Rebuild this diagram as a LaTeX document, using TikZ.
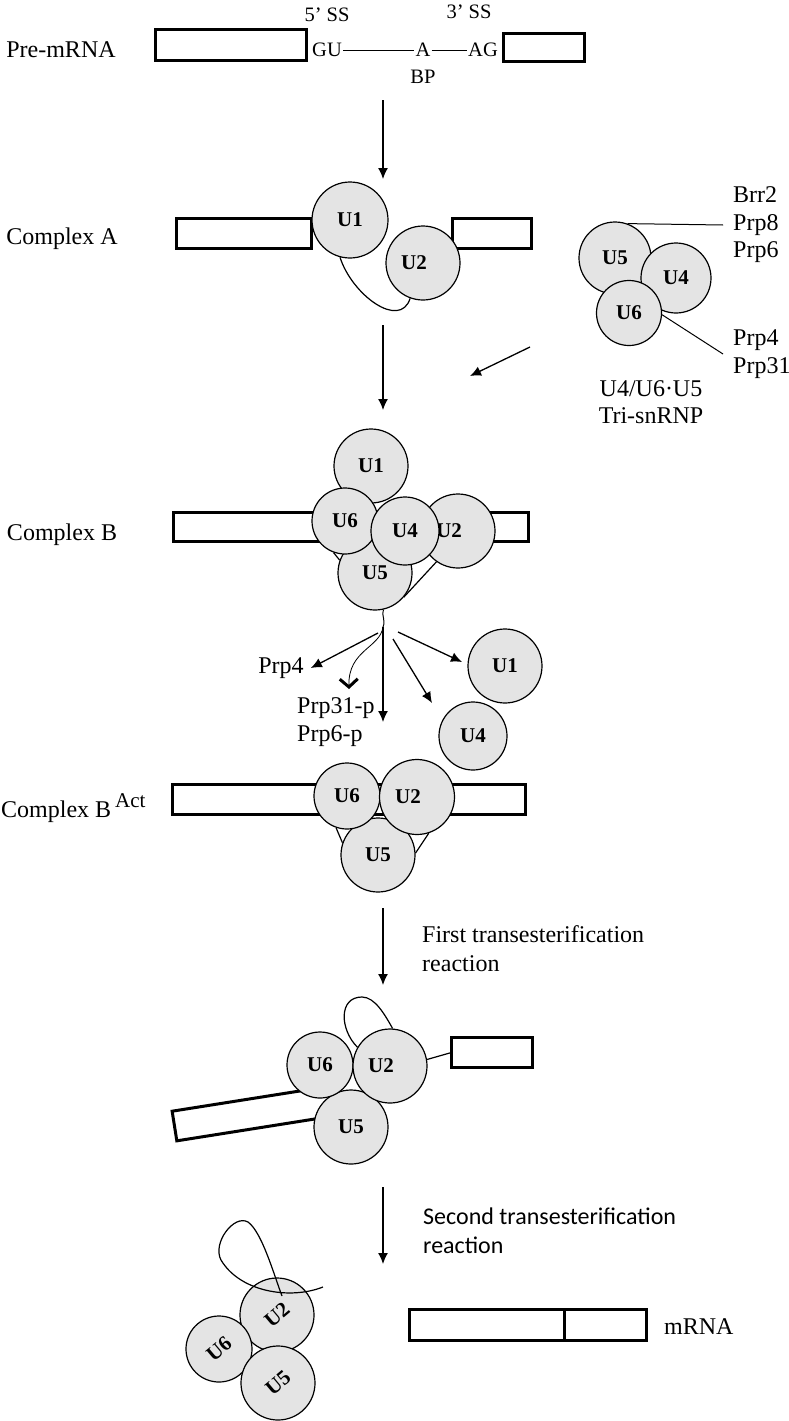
\documentclass[tikz,border=0pt]{standalone}
\usepackage{fontspec}
\setmainfont{Liberation Serif}
\newfontfamily\reactfont{Carlito}
\usepackage{tikz}
\usetikzlibrary{positioning}
\usetikzlibrary{arrows.meta}
\pgfdeclarelayer{background}
\pgfdeclarelayer{foreground}
\pgfsetlayers{background,main,foreground}
\definecolor{rnpgray}{RGB}{228,228,228}
\newcommand{\offlbl}[1]{\hspace*{-18pt}#1}

\begin{document}
\begin{tikzpicture}[
						x=1pt, y=-1pt,
						roundnode/.style={circle, draw=black, line width=1.2pt, fill=rnpgray, inner sep=0pt, minimum size=#1, font=\bfseries\fontsize{21}{21}\selectfont},
						roundnode/.default=74pt,
						exonbox/.style={rectangle, draw=black, line width=3pt, fill=white, inner sep=0pt, outer sep=0pt},
						txt/.style={inner sep=0pt, align=left, font=\fontsize{24}{27.5}\selectfont},
						smalltxt/.style={inner sep=1pt, font=\fontsize{20.5}{22}\selectfont},
						arr/.style={line width=1.3pt, -{Latex[length=11pt,width=10pt]}},
						]
						\useasboundingbox (0,0) rectangle (789,1421);
						
						%Pre-mRNA
						\node[txt]      (lpre)   at  (61,50)     {Pre-mRNA};
						\node[exonbox, minimum width=151pt, minimum height=31pt]  (pe1)  at  (231,45)  {};
						\node[exonbox, minimum width=81pt, minimum height=28pt]   (pe2)  at  (544,47.5) {};
						\node[smalltxt] (gu)     at  (327,50)    {GU};
						\node[smalltxt] (bpa)    at  (423,50)    {A};
						\node[smalltxt] (ag)     at  (483,50)    {AG};
						\node[smalltxt] (ss5)    at  (327,15)    {5’ SS};
						\node[smalltxt] (ss3)    at  (469,12)    {3’ SS};
						\node[smalltxt] (bp)     at  (423,77)    {BP};
						\draw[line width=0.8pt] (gu.east) -- (bpa.west);
						\draw[line width=0.8pt] (bpa.east) -- (ag.west);
						
						%Complex A
						\node[txt]      (lca)    at  (62,239)    {Complex A};
						\node[exonbox, minimum width=135pt, minimum height=30pt]  (ae1)  at  (244,233.5) {};
						\node[exonbox, minimum width=79pt, minimum height=30pt]   (ae2)  at  (492,233.5) {};
						\node[roundnode=76pt]  (a1)  at  (350,220)   {U1};
						\node[roundnode]       (a2)  at  (423,263)   {\offlbl{U2}};
						
						%Tri-snRNP
						\node[roundnode=72pt]  (t5)  at  (615,258)   {U5};
						\node[roundnode=70pt]  (t4)  at  (676,278)   {U4};
						\node[roundnode=65pt]  (t6)  at  (629,313)   {U6};
						\node[txt, anchor=west, inner xsep=10pt] (tprot1) at (723,225)   {Brr2\\Prp8\\Prp6};
						\node[txt, anchor=west, inner xsep=10pt] (tprot2) at (723,354)   {Prp4\\Prp31};
						\node[txt, align=center] (ltri) at (651,402)  {U4/U6·U5\\Tri-snRNP};
						
						%Complex B
						\node[txt]      (lcb)    at  (62,535)    {Complex B};
						\node[exonbox, minimum width=355pt, minimum height=29pt]  (be)   at  (351,527) {};
						\node[roundnode]       (b1)  at  (371,466)   {U1};
						\node[roundnode]       (b2)  at  (458,531)   {\offlbl{U2}};
						\node[roundnode]       (b5)  at  (375,573)   {U5};
						\node[roundnode=66pt]  (b6)  at  (345,521)   {U6};
						\node[roundnode=68pt]  (b4)  at  (405,531)   {U4};
						
						%Released parts
						\coordinate (fork)   at (383,627);
						\coordinate (tipdown) at (383,722);
						\coordinate (tipu4)  at (432,703);
						\coordinate (tipu1)  at (462,662);
						\node[txt]      (prp4)   at  (281,668)   {Prp4};
						\node[txt, anchor=west]  (prp31) at (297,722) {Prp31-p\\Prp6-p};
						\node[roundnode]       (r1)  at  (505,666)   {U1};
						\node[roundnode=68pt]  (r4)  at  (473,736)   {U4};
						
						%Complex B Act
						\node[txt, anchor=west]  (lcbact) at (1,808) {Complex B\,\raisebox{10pt}{\fontsize{21}{21}\selectfont Act}};
						\node[exonbox, minimum width=353pt, minimum height=30pt]  (acte) at  (349,799.5) {};
						\node[roundnode]       (act5) at (378,855)   {U5};
						\node[roundnode=66pt]  (act6) at (347,796)   {U6};
						\node[roundnode=75pt]  (act2) at (417,797)   {\offlbl{U2}};
						
						%First transesterification
						\node[txt, anchor=west, font=\fontsize{24}{29}\selectfont] (lfirst) at (422,949) {First transesterification\\reaction};
						\node[exonbox, minimum width=160pt, minimum height=30pt, rotate=9] (fex1) at (253.5,1113.5) {};
						\node[exonbox, minimum width=81pt, minimum height=30pt]   (fex2) at  (492,1052.5) {};
						\node[roundnode]       (f5)  at  (351,1127)  {U5};
						\node[roundnode=66pt]  (f6)  at  (320,1065)  {U6};
						\node[roundnode]       (f2)  at  (390,1066)  {\offlbl{U2}};
						
						%Second transesterification
						\node[txt, anchor=west, font=\reactfont\fontsize{24}{29}\selectfont] (lsecond) at (423,1231) {Second transesterification\\reaction};
						\node[roundnode, rotate=40]       (s2)  at  (277,1315)  {U2};
						\node[roundnode=66pt, rotate=40]  (s6)  at  (219,1349)  {U6};
						\node[roundnode, rotate=40]       (s5)  at  (278,1383)  {U5};
						\node[exonbox, minimum width=154.5pt, minimum height=31pt] (mr1) at (486.75,1325) {};
						\node[exonbox, minimum width=82.5pt, minimum height=31pt, right=0pt of mr1] (mr2) {};
						\node[txt, anchor=west]  (lmrna) at (664,1327) {mRNA};
						\coordinate (lend)   at (323,1287);
						\coordinate (lin)    at (282,1296);
						
						%Stage arrows
						\coordinate (ar1a) at (383,100);
						\coordinate (ar1b) at (383,179);
						\coordinate (ar2a) at (383,325);
						\coordinate (ar2b) at (383,410);
						\coordinate (ar3a) at (530,347);
						\coordinate (ar3b) at (470,376);
						\coordinate (ar5a) at (383,908);
						\coordinate (ar5b) at (383,985);
						\coordinate (ar6a) at (383,1187);
						\coordinate (ar6b) at (383,1264);
						\draw[arr] (ar1a) -- (ar1b);
						\draw[arr] (ar2a) -- (ar2b);
						\draw[arr] (ar3a) -- (ar3b);
						\draw[arr] (ar5a) -- (ar5b);
						\draw[arr] (ar6a) -- (ar6b);
						
						%Release arrows
						\draw[line width=1pt] (b5.-77) .. controls (381,615) and (386,620) .. (fork);
						\draw[arr] ([shift={(-5,6)}]fork) -- ([xshift=7pt]prp4.east);
						\draw[arr] (fork) -- (tipdown);
						\draw[arr] ([shift={(10,12)}]fork) -- (tipu4);
						\draw[arr] ([shift={(15,5)}]fork) -- (tipu1);
						\draw[line width=0.8pt, -{Straight Barb[length=8pt,width=18pt,line width=3pt]}] (fork) .. controls (380,648) and (348,650) .. (349,689);
						
						%Loop over U2
						\draw[line width=1.2pt] (lend) .. controls (290,1300) and (240,1292) .. (221,1260) .. controls (212,1243) and (234,1214) .. (248,1222) .. controls (262,1232) and (274,1275) .. (lin);
						
						\begin{pgfonlayer}{background}
						%Lines
						\draw[line width=1.2pt] (a1.255) .. controls (352,295) and (400,330) .. (a2.250);
						\draw[line width=1pt] (t5.70) -- (tprot1.west);
						\draw[line width=1pt] (t6.-3) -- (tprot2.west);
						\draw[line width=1.2pt] (b5.-40) -- (b2.-125);
						\draw[line width=1.2pt] (b6.-110) -- (b5.160);
						\draw[line width=1.2pt] (act6.-109) -- (act5.161);
						\draw[line width=1.2pt] (act2.-72) -- (act5.3);
						\draw[line width=1.2pt] (f2.10) -- (fex2.west);
						\draw[line width=1.2pt] (f2.150) .. controls (340,1030) and (338,997) .. (362,997) .. controls (375,997) and (385,1015) .. (f2.86);
						\end{pgfonlayer}
					\end{tikzpicture}
\end{document}
